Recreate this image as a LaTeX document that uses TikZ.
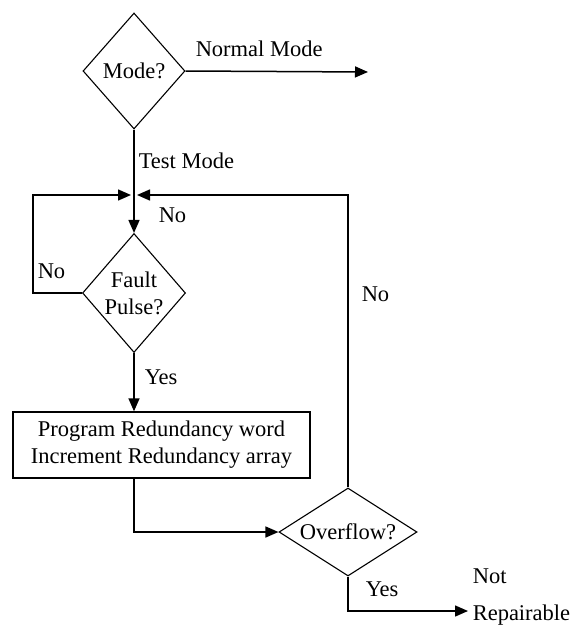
\documentclass[tikz,border=0pt]{standalone}
\usepackage{fontspec}
\setmainfont{Liberation Serif}
\usetikzlibrary{shapes.geometric,arrows.meta}
\begin{document}
\begin{tikzpicture}[x=1pt,y=-1pt,
  line width=1.5pt,
  >={Triangle[length=13pt,width=11pt]},
  every node/.style={font=\fontsize{22.5}{27}\selectfont, inner sep=0pt},
  decision/.style={diamond, draw, line width=1.1pt, align=center},
  procbox/.style={rectangle, draw, line width=1.4pt, align=center},
  lbl/.style={anchor=base west}]
\useasboundingbox (0,0) rectangle (570,629);
% nodes
\node[decision, minimum width=102pt, minimum height=116pt] (mode) at (134,71) {Mode?};
\node[decision, minimum width=103pt, minimum height=119pt] (fault) at (134,293) {Fault\\Pulse?};
\node[procbox, minimum width=297pt, minimum height=66pt] (box) at (161.5,445) {Program Redundancy word\\Increment Redundancy array};
\node[decision, aspect=1.57, minimum width=138pt, minimum height=88pt] (ovf) at (348,532) {Overflow?};
\coordinate (nm) at (368,72);
\coordinate (jn) at (134,195);
\coordinate (lc) at (33,195);
\coordinate (rc) at (348,195);
\coordinate (nr) at (468,611);
\node[anchor=north west, align=left] (notrep) at (472,568) {Not\\[10pt]Repairable};
% labels
\node[lbl] (lnm) at (195,56) {Normal Mode};
\node[lbl] (ltm) at (138,168) {Test Mode};
\node[lbl] (lno1) at (158,222) {No};
\node[lbl] (lno2) at (37,278) {No};
\node[lbl] (lno3) at (361,301) {No};
\node[lbl] (lyes1) at (144,384) {Yes};
\node[lbl] (lyes2) at (365,596) {Yes};
% connectors
\draw[->] (mode.east) -- (nm);
\draw[->] (mode.south) -- (fault.north);
\draw[->] (fault.west) -| (lc) -- ([xshift=-3pt]jn);
\draw[->] (ovf.north) -- (rc) -- ([xshift=3pt]jn);
\draw[->] (fault.south) -- (fault.south |- box.north);
\draw[->] (fault.south |- box.south) |- (ovf.west);
\draw[->] (ovf.south) |- (nr);
\end{tikzpicture}
\end{document}
